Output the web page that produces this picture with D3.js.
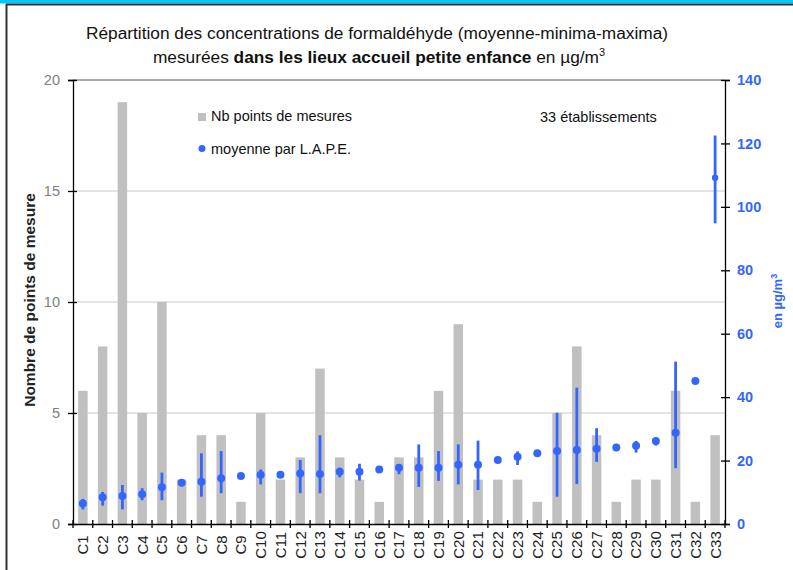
<!DOCTYPE html>
<html><head><meta charset="utf-8">
<script src="https://cdn.jsdelivr.net/npm/d3@7"></script>
<style>body{margin:0;background:#fff}svg{display:block;font-family:"Liberation Sans",Arial,sans-serif}</style>
</head><body><svg id="c" width="793" height="570"></svg>
<script>
const categories = ["C1","C2","C3","C4","C5","C6","C7","C8","C9","C10","C11","C12","C13","C14","C15","C16","C17","C18","C19","C20","C21","C22","C23","C24","C25","C26","C27","C28","C29","C30","C31","C32","C33"];
const nbPoints = [6,8,19,5,10,2,4,4,1,5,2,3,7,3,2,1,3,3,6,9,2,2,2,1,5,8,4,1,2,2,6,1,4];
const moyenne = [6.5,8.4,8.8,9.4,11.6,13.0,13.3,14.4,15.1,15.5,15.5,15.9,15.8,16.5,16.5,17.2,17.7,17.7,17.7,18.7,18.7,20.2,21.2,22.3,23.0,23.3,23.7,24.1,24.7,26.2,28.8,45.1,109.2];
const minima = [4.6,5.8,4.6,7.5,7.5,13.0,8.6,9.7,15.1,12.5,15.5,9.7,9.7,14.7,13.7,17.2,15.7,11.7,13.6,12.5,10.7,20.2,18.6,22.3,8.6,12.6,19.6,24.1,22.5,24.7,17.6,45.1,94.8];
const maxima = [7.9,10.1,12.3,11.3,16.2,13.0,22.3,23.0,15.1,17.2,15.5,20.2,28.0,17.8,19.0,17.2,18.6,25.1,23.0,25.1,26.3,20.2,22.9,22.3,35.1,43.0,30.2,24.1,26.2,27.2,51.2,45.1,122.5];
const leftTicks = [0,5,10,15,20];
const rightTicks = [0,20,40,60,80,100,120,140];

const svg = d3.select("#c");
const L = 73, R = 725, T = 80, B = 524;
const blue = "#3366FF";
const FF = "Liberation Sans, Arial, sans-serif";

// frame
svg.append("rect").attr("x",0).attr("y",0).attr("width",793).attr("height",3.5).attr("fill","#00C8FA");
svg.append("line").attr("x1",6).attr("x2",793).attr("y1",4.5).attr("y2",4.5).attr("stroke","#333").attr("stroke-width",2);
svg.append("line").attr("x1",6.5).attr("x2",6.5).attr("y1",4).attr("y2",570).attr("stroke","#333").attr("stroke-width",2);

const x = d3.scaleBand().domain(categories).range([L,R]).paddingInner(0).paddingOuter(0);
const yL = d3.scaleLinear().domain([0,20]).range([B,T]);
const yR = d3.scaleLinear().domain([0,140]).range([B,T]);

// gridlines
svg.append("g").selectAll("line").data(leftTicks.filter(d=>d>0&&d<20)).join("line")
  .attr("x1",L).attr("x2",R).attr("y1",d=>yL(d)).attr("y2",d=>yL(d)).attr("stroke","#c8c8c8").attr("stroke-width",1);
svg.append("line").attr("x1",L).attr("x2",R).attr("y1",T).attr("y2",T).attr("stroke","#555").attr("stroke-width",1);

// bars
const bw = 9.5;
svg.append("g").selectAll("rect").data(categories).join("rect")
  .attr("x",(d)=>x(d)+x.bandwidth()/2-bw/2).attr("width",bw)
  .attr("y",(d,i)=>yL(nbPoints[i])).attr("height",(d,i)=>B-yL(nbPoints[i]))
  .attr("fill","#C0C0C0");

// whiskers
svg.append("g").selectAll("line").data(categories).join("line")
  .attr("x1",d=>x(d)+x.bandwidth()/2).attr("x2",d=>x(d)+x.bandwidth()/2)
  .attr("y1",(d,i)=>yR(minima[i])).attr("y2",(d,i)=>yR(maxima[i]))
  .attr("stroke",blue).attr("stroke-width",2.8);
svg.append("g").selectAll("circle").data(categories).join("circle")
  .attr("cx",d=>x(d)+x.bandwidth()/2).attr("cy",(d,i)=>yR(moyenne[i]))
  .attr("r",(d,i)=>i===32?3.2:4).attr("fill",blue);

// left axis
const gl = svg.append("g").attr("transform",`translate(${L},0)`)
  .call(d3.axisLeft(yL).tickValues(leftTicks).tickSize(5).tickPadding(8));
gl.select(".domain").attr("stroke","#000").attr("stroke-width",1.3);
gl.selectAll(".tick line").attr("x2",-5).attr("x1",4).attr("stroke","#000").attr("stroke-width",1.3);
gl.selectAll(".tick text").attr("fill","#808080").attr("font-size",14.5).attr("font-family",FF);

// right axis
const gr = svg.append("g").attr("transform",`translate(${R},0)`)
  .call(d3.axisRight(yR).tickValues(rightTicks).tickSize(5).tickPadding(7));
gr.select(".domain").attr("stroke","#000").attr("stroke-width",1.3);
gr.selectAll(".tick line").attr("x1",-4).attr("x2",5).attr("stroke","#000").attr("stroke-width",1.3);
gr.selectAll(".tick text").attr("fill",blue).attr("font-size",14.5).attr("font-weight","bold").attr("font-family",FF);

// bottom axis
const gb = svg.append("g").attr("transform",`translate(0,${B})`)
  .call(d3.axisBottom(x).tickSize(0).tickPadding(0));
gb.select(".domain").attr("stroke","#000").attr("stroke-width",1.3);
gb.selectAll(".tick text")
  .attr("transform","translate(0,21) rotate(-90)")
  .attr("text-anchor","middle").attr("dy","0.36em").attr("x",0).attr("y",0)
  .attr("fill","#222").attr("font-size",15).attr("font-family",FF);
// boundary ticks
const bounds = categories.map(d=>x(d)).concat([R]);
svg.append("g").selectAll("line").data(bounds).join("line")
  .attr("x1",d=>d).attr("x2",d=>d).attr("y1",B-4).attr("y2",B+4).attr("stroke","#000").attr("stroke-width",1.3);

// titles
const t = svg.append("text").attr("x",377).attr("y",39).attr("text-anchor","middle").attr("font-size",17.3).attr("fill","#111");
t.text("Répartition des concentrations de formaldéhyde (moyenne-minima-maxima)");
const t2 = svg.append("text").attr("x",379).attr("y",63).attr("text-anchor","middle").attr("font-size",17.3).attr("fill","#111");
t2.append("tspan").text("mesurées ");
t2.append("tspan").attr("font-weight","bold").text("dans les lieux accueil petite enfance");
t2.append("tspan").text(" en µg/m");
t2.append("tspan").attr("font-size",11).attr("dy",-7).text("3");

// axis titles
svg.append("text").attr("transform","translate(35,300) rotate(-90)").attr("text-anchor","middle")
  .attr("font-size",15.5).attr("font-weight","bold").attr("fill","#222").text("Nombre de points de mesure");
const rt = svg.append("text").attr("transform","translate(782,301) rotate(-90)").attr("text-anchor","middle")
  .attr("font-size",13).attr("font-weight","bold").attr("fill",blue);
rt.append("tspan").text("en µg/m");
rt.append("tspan").attr("font-size",9).attr("dy",-5).text("3");

// legend
svg.append("rect").attr("x",198).attr("y",113).attr("width",8).attr("height",8).attr("fill","#C0C0C0");
svg.append("text").attr("x",211).attr("y",121).attr("font-size",14.5).attr("fill","#111").text("Nb points de mesures");
svg.append("circle").attr("cx",202).attr("cy",148.5).attr("r",3.5).attr("fill",blue);
svg.append("text").attr("x",211).attr("y",153.5).attr("font-size",14.5).attr("fill","#111").text("moyenne par L.A.P.E.");
svg.append("text").attr("x",540).attr("y",121.5).attr("font-size",14.5).attr("fill","#111").text("33 établissements");
</script></body></html>
